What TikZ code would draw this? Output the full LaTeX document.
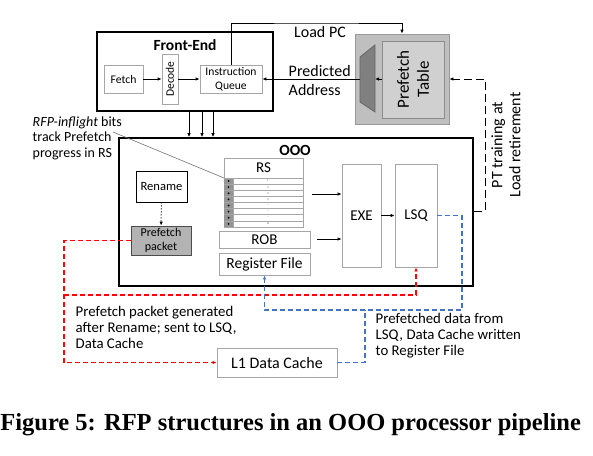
\documentclass[tikz,border=0pt]{standalone}
\usepackage{fontspec}
\setmainfont{Carlito}
\newfontfamily\capfont{Liberation Serif}
\usetikzlibrary{arrows.meta}
\definecolor{pipegray}{HTML}{A6A6A6}
\definecolor{ptgray}{HTML}{BFBFBF}
\definecolor{ptlight}{HTML}{D0D0D0}
\definecolor{muxgray}{HTML}{808080}
\definecolor{pktgray}{HTML}{B3B3B3}
\definecolor{rfpred}{HTML}{FF0000}
\definecolor{rfpblue}{HTML}{4472C4}
\tikzset{
  blk/.style 2 args={draw=pipegray, line width=0.8pt, inner sep=0pt, minimum width=#1, minimum height=#2, align=center},
  unit/.style={draw=black, line width=1.6pt, inner sep=0pt},
  arr/.style={-{Latex[length=4pt,width=3.5pt]}},
  rfpdash/.style={dash pattern=on 5pt off 3pt, line width=1.2pt},
}

\begin{document}
\begin{tikzpicture}[x=1pt, y=-1pt, line width=0.8pt]
			%%%%% START %%%%%
			\useasboundingbox (0, 0) rectangle (593, 455);
			
			% front-end
			\node[unit, minimum width=176, minimum height=79] (fe) at (185, 71.5) {};
			\node[font=\fontsize{15.5}{17}\selectfont\bfseries] at (185, 45) {Front-End};
			\node[blk={39}{28}, font=\fontsize{11.7}{13}\selectfont] (fetch) at (123.5, 79) {Fetch};
			\node[blk={50}{16}, rotate=90, font=\fontsize{11.5}{13}\selectfont] (decode) at (170, 79) {Decode};
			\node[blk={62}{28}, font=\fontsize{11.6}{14}\selectfont] (iq) at (231, 79) {Instruction\\Queue};
			\draw[arr] (fetch) -- (decode);
			\draw[arr] (decode) -- (iq);
			
			% prefetch table
			\node[draw=black!40, fill=ptgray, minimum width=94, minimum height=90] (ptout) at (402, 79) {};
			\node[blk={77}{62}, draw=black!45, fill=ptlight, rotate=90, font=\fontsize{17}{20}\selectfont] (ptin) at (413, 79.5) {Prefetch\\Table};
			\draw[draw=black!60, fill=muxgray] (360, 57) -- (375, 45) -- (375, 112) -- (360, 102) -- cycle;
			\coordinate (ptl) at (382, 79);
			\coordinate (muxl) at (360, 79);
			\coordinate (muxr) at (375, 79);
			\draw[arr] (ptl) -- (muxr);
			\draw[arr] (muxl) -- (iq.east);
			\node[anchor=west, align=left, font=\fontsize{16}{19}\selectfont] at (285, 80.5) {Predicted\\Address};
			
			\coordinate (lpc) at (316, 23);
			\draw[arr] (iq.north) |- (lpc) -| (ptout.north);
			\node[font=\fontsize{16}{18}\selectfont] at (320, 32) {Load PC};
			
			% ooo
			\node[unit, minimum width=354, minimum height=148] (ooo) at (296, 212) {};
			\node[font=\fontsize{15.5}{17}\selectfont\bfseries] at (295, 150) {OOO};
			\foreach \dx in {4, 17, 28}
				\draw[arr] ([xshift=\dx]fe.south) -- ([xshift=\dx]fe.south |- ooo.north);
			
			\node[blk={51}{31}, draw=black, font=\fontsize{12.6}{14}\selectfont] (rename) at (161.5, 186.5) {Rename};
			\node[blk={60}{29}, draw=black!70, fill=pktgray, font=\fontsize{12}{14}\selectfont] (pkt) at (161, 240.5) {Prefetch\\packet};
			\draw[arr, dotted, line width=1pt] (rename) -- (pkt);
			
			\node[blk={79}{69}] (rs) at (263.5, 192.5) {};
			\node[font=\fontsize{15}{17}\selectfont] at (263.5, 168) {RS};
			\fill[pipegray!90!black] (224, 178) rectangle (233, 227);
			\foreach \i/\t in {0/1, 1/2, 2/3, 3/4, 4/\dots, 5/\dots, 6/\dots, 7/N} {
				\draw[pipegray, line width=0.6pt] (224, 178+6.125*\i) -- (303, 178+6.125*\i);
				\fill[black] (228.5, 181+6.125*\i) circle (1);
				\node[font=\fontsize{3}{3}\selectfont, text=black!60, inner sep=0pt] at (268, 181+6.125*\i) {\t};
			}
			\draw[pipegray, line width=0.6pt] (233, 178) -- (233, 227);
			\node[blk={91}{17}, font=\fontsize{15}{17}\selectfont] (rob) at (264.5, 239.5) {ROB};
			\node[blk={91}{22}, font=\fontsize{15.5}{17}\selectfont] (rf) at (264.5, 264) {Register File};
			
			\node[blk={39}{103}, font=\fontsize{15}{17}\selectfont] (exe) at (361.5, 215.5) {EXE};
			\node[blk={42}{103}, font=\fontsize{15}{17}\selectfont] (lsq) at (416, 215.5) {LSQ};
			\coordinate (rsout) at (312, 194);
			\coordinate (robout) at (317, 239);
			\draw[arr] (rsout) -- (rsout -| exe.west);
			\draw[arr] (robout) -- (robout -| exe.west);
			\draw[arr] (exe) -- (lsq);
			
			% rfp-inflight note
			\node[anchor=west, align=left, font=\fontsize{14}{15.5}\selectfont] at (29, 138) {\textit{RFP-inflight} bits\\track Prefetch\\progress in RS};
			\coordinate (tag) at (113, 132);
			\coordinate (bits) at (224, 178);
			\draw[black!55, line width=0.6pt] (tag) -- (bits);
			
			% pt training
			\coordinate (ptj) at (485, 211);
			\draw[arr, dash pattern=on 8pt off 4pt, line width=1pt] (ooo.east |- ptj) -- (ptj) |- (ptout.east);
			\node[rotate=90, align=center, font=\fontsize{16}{18}\selectfont] at (506, 145) {PT training at\\Load retirement};
			
			% l1 data cache
			\node[blk={120}{29}, font=\fontsize{16}{18}\selectfont] (l1) at (277, 362.5) {L1 Data Cache};
			
			\coordinate (rj) at (64, 295);
			\draw[arr, rfpred, rfpdash] (pkt.west) -| (rj) |- (l1.west);
			\draw[arr, rfpred, rfpdash] (rj) -| (lsq.south);
			
			\coordinate (bj) at (462, 310);
			\coordinate (bk) at (365, 310);
			\draw[arr, rfpblue, rfpdash] (lsq.east) -| (bj) -| (rf.south);
			\draw[rfpblue, rfpdash] (l1.east) -| (bk);
			
			\node[anchor=west, align=left, font=\fontsize{14.8}{16}\selectfont] at (72, 327) {Prefetch packet generated\\after Rename; sent to LSQ,\\Data Cache};
			\node[anchor=west, align=left, font=\fontsize{14.8}{16}\selectfont] at (372, 336) {Prefetched data from\\LSQ, Data Cache written\\to Register File};
			
			% caption
			\node[anchor=west, inner sep=0pt, font=\capfont\fontsize{24.5}{27}\selectfont\bfseries] at (0, 425) {Figure 5: RFP structures in an OOO processor pipeline};
			%%%%% END %%%%%
\end{tikzpicture}
\end{document}
